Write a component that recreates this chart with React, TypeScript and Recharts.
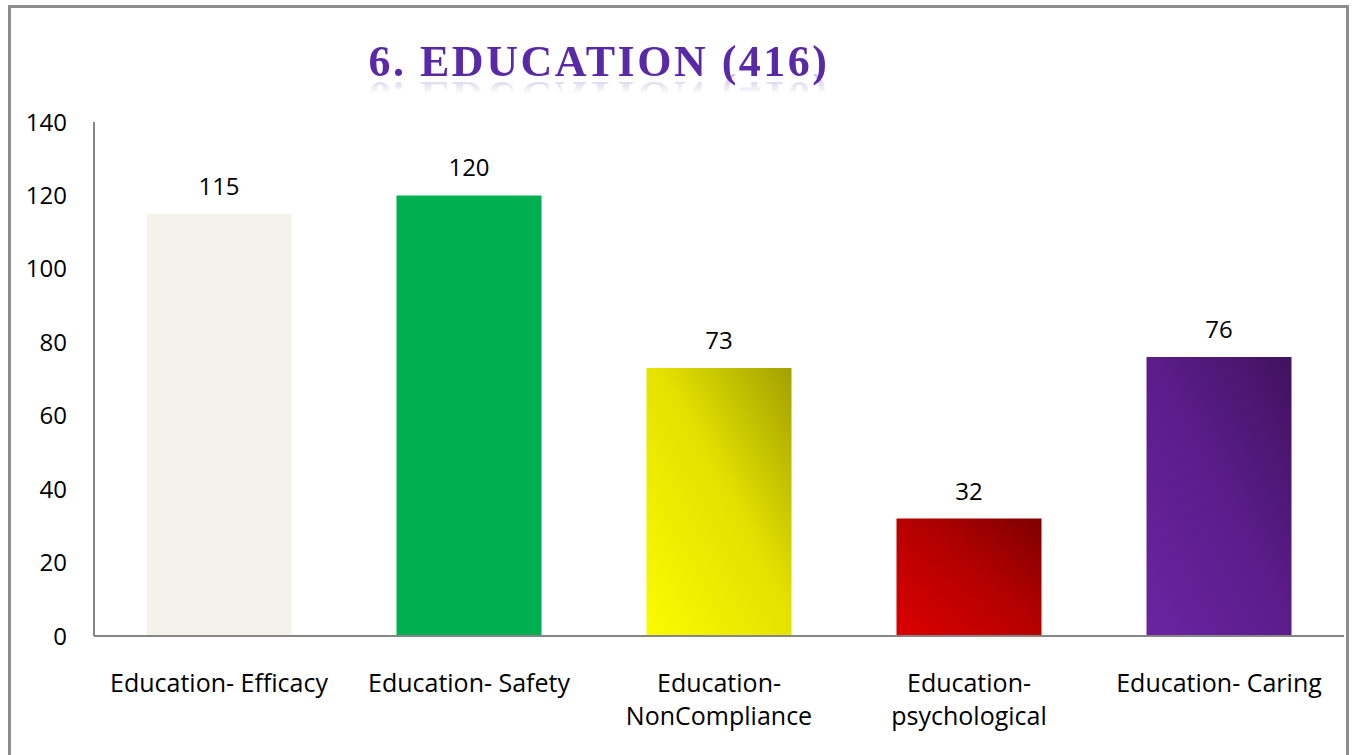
import React from 'react';
import { BarChart, Bar, XAxis, YAxis, LabelList, Cell } from 'recharts';

const categories = [
    'Education- Efficacy',
    'Education- Safety',
    'Education-\nNonCompliance',
    'Education-\npsychological',
    'Education- Caring',
];
const counts = [115, 120, 73, 32, 76];
const yTicks = [0, 20, 40, 60, 80, 100, 120, 140];
const titleText = '6. EDUCATION (416)';

// fill per bar: solid colour or gradient id
const barFills = ['#f3f3eb', '#00b050', 'url(#gYellow)', 'url(#gRed)', 'url(#gPurple)'];

const FONT = '"Open Sans", Calibri, sans-serif';

const data = categories.map((name, i) => ({ name, value: counts[i] }));

function CategoryTick(props: any) {
    const { x, y, payload } = props;
    const lines = String(payload.value).split('\n');
    return (
        <g transform={`translate(${x},${y})`}>
            {lines.map((line, i) => (
                <text
                    key={i}
                    x={0}
                    y={i * 33}
                    dy={20}
                    textAnchor="middle"
                    fill="#000"
                    fontSize={25}
                    fontFamily={FONT}
                >
                    {line}
                </text>
            ))}
        </g>
    );
}

export default function App() {
    return (
        <div style={{ position: 'absolute', left: 0, top: 0, width: 1354, height: 755, background: '#fff', overflow: 'hidden' }}>
            <div
                style={{
                    position: 'absolute',
                    left: 8,
                    top: 5,
                    width: 1335,
                    height: 800,
                    border: '3px solid #8c8c8c',
                    borderBottom: 'none',
                }}
            />
            <div style={{ position: 'absolute', left: 0, width: 1198, top: 40, textAlign: 'center' }}>
                <div
                    style={{
                        display: 'inline-block',
                        fontFamily: '"Liberation Serif", "Times New Roman", serif',
                        fontWeight: 700,
                        fontSize: 44,
                        letterSpacing: 2.5,
                        whiteSpace: 'nowrap',
                        lineHeight: '44px',
                        color: '#5a2aa6',
                        WebkitBoxReflect: 'below -10px linear-gradient(transparent 55%, rgba(255,255,255,0.3))',
                    } as React.CSSProperties}
                >
                    {titleText}
                </div>
            </div>
            <div style={{ position: 'absolute', left: 0, top: 0 }}>
                <BarChart
                    width={1354}
                    height={755}
                    data={data}
                    margin={{ top: 122, right: 10, bottom: 0, left: 0 }}
                    barCategoryGap="21%"
                >
                    <defs>
                        <linearGradient id="gYellow" x1="0" y1="1" x2="1" y2="0">
                            <stop offset="0%" stopColor="#fbfb00" />
                            <stop offset="55%" stopColor="#e3e100" />
                            <stop offset="100%" stopColor="#a3a000" />
                        </linearGradient>
                        <linearGradient id="gRed" x1="0" y1="1" x2="1" y2="0">
                            <stop offset="0%" stopColor="#dc0000" />
                            <stop offset="55%" stopColor="#b30000" />
                            <stop offset="100%" stopColor="#7e0000" />
                        </linearGradient>
                        <linearGradient id="gPurple" x1="0" y1="1" x2="1" y2="0">
                            <stop offset="0%" stopColor="#6c24a2" />
                            <stop offset="55%" stopColor="#591c88" />
                            <stop offset="100%" stopColor="#41125e" />
                        </linearGradient>
                    </defs>
                    <XAxis
                        dataKey="name"
                        axisLine={{ stroke: '#868686', strokeWidth: 2 }}
                        tickLine={false}
                        interval={0}
                        tick={<CategoryTick />}
                        tickMargin={30}
                        height={119}
                    />
                    <YAxis
                        domain={[0, 140]}
                        ticks={yTicks}
                        width={94}
                        axisLine={{ stroke: '#868686', strokeWidth: 2 }}
                        tickLine={false}
                        tickMargin={21}
                        tick={{ fill: '#000', fontSize: 24, fontFamily: FONT }}
                    />
                    <Bar dataKey="value" isAnimationActive={false}>
                        {data.map((entry, index) => (
                            <Cell key={`cell-${index}`} fill={barFills[index]} />
                        ))}
                        <LabelList
                            dataKey="value"
                            position="top"
                            offset={19}
                            fill="#000"
                            fontSize={24}
                            fontFamily={FONT}
                        />
                    </Bar>
                </BarChart>
            </div>
        </div>
    );
}
